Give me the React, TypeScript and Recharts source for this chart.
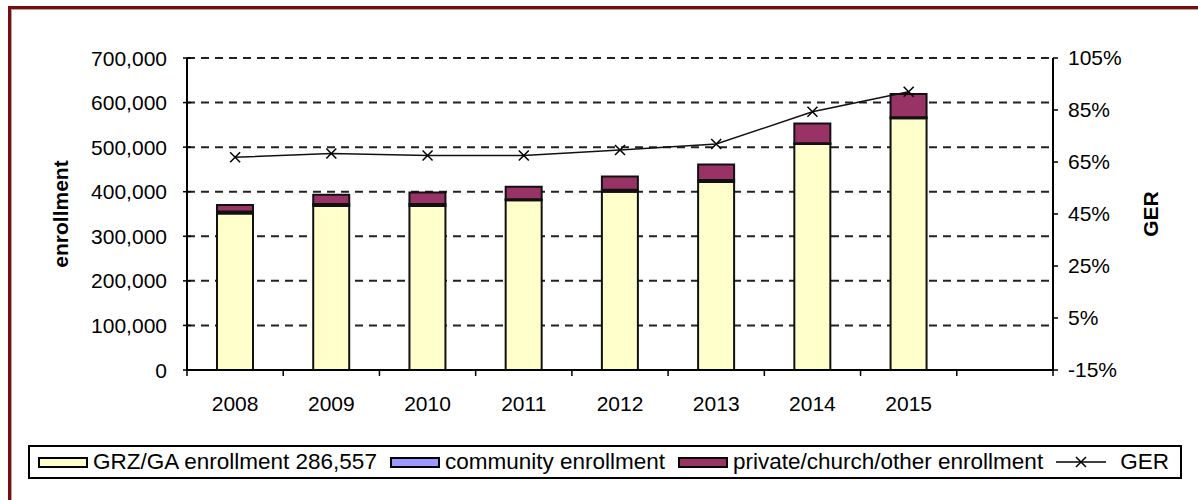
import React from 'react';
import { ComposedChart, Bar, Line, XAxis, YAxis, CartesianGrid } from 'recharts';

const years = ['2008', '2009', '2010', '2011', '2012', '2013', '2014', '2015', ''];
const grzEnrollment = [351000, 368000, 368000, 381000, 400000, 422000, 507000, 565000];
const communityEnrollment = [4500, 4500, 4500, 2000, 4500, 4500, 2000, 2000];
const privateEnrollment = [14500, 20500, 25500, 28000, 29500, 34500, 44000, 52000];
const gerValues = [66.8, 68.3, 67.5, 67.5, 69.6, 71.9, 84.3, 92.0];

const leftTicks = [0, 100000, 200000, 300000, 400000, 500000, 600000, 700000];
const rightTicks = [-15, 5, 25, 45, 65, 85, 105];

const series = [
  { key: 'grz', name: 'GRZ/GA enrollment 286,557', color: '#FFFFCC' },
  { key: 'community', name: 'community enrollment', color: '#9999FF' },
  { key: 'private', name: 'private/church/other enrollment', color: '#993366' },
];

const data = years.map((year, i) => ({
  year,
  grz: grzEnrollment[i],
  community: communityEnrollment[i],
  private: privateEnrollment[i],
  ger: gerValues[i],
}));

const FONT = '"Liberation Sans", Arial, sans-serif';
const FS = 21;
const LEGEND_FS = 22.5;

const LeftTick = (props: any) => {
  const { x, y, payload } = props;
  const ax = x + 20;
  return (
    <g>
      <line x1={ax - 4} x2={ax + 4} y1={y} y2={y} stroke="#000" strokeWidth={1.5} />
      <text x={x} y={y} dy="0.36em" textAnchor="end" fontSize={FS} fontFamily={FONT} fill="#000">
        {payload.value.toLocaleString('en-US')}
      </text>
    </g>
  );
};

const BottomTick = (props: any) => {
  const { x, y, payload, index, visibleTicksCount } = props;
  const half = payload.offset ?? 48;
  const axisY = y - 26;
  const isLast = index === (visibleTicksCount ?? years.length) - 1;
  return (
    <g>
      <line x1={x - half} x2={x - half} y1={axisY} y2={axisY + 6} stroke="#000" strokeWidth={1.5} />
      {isLast && <line x1={x + half} x2={x + half} y1={axisY} y2={axisY + 6} stroke="#000" strokeWidth={1.5} />}
      <text x={x} y={y} dy="0.71em" textAnchor="middle" fontSize={FS} fontFamily={FONT} fill="#000">
        {payload.value}
      </text>
    </g>
  );
};

const XDot = (props: any) => {
  const { cx, cy, index } = props;
  if (cx == null || cy == null) return <g key={`d${index}`} />;
  const s = 5;
  return (
    <path
      key={`d${index}`}
      d={`M${cx - s},${cy - s}L${cx + s},${cy + s}M${cx - s},${cy + s}L${cx + s},${cy - s}`}
      stroke="#000"
      strokeWidth={1.5}
      fill="none"
    />
  );
};

const Legend = () => (
  <div
    style={{
      position: 'absolute', left: 28, top: 445, width: 1154, height: 34, boxSizing: 'border-box',
      border: '2px solid #000', display: 'flex', alignItems: 'center', paddingLeft: 8,
      fontFamily: FONT, fontSize: LEGEND_FS, color: '#000', whiteSpace: 'nowrap', background: '#fff',
    }}
  >
    {series.map((s) => (
      <div key={s.key} style={{ display: 'flex', alignItems: 'center', marginRight: 13 }}>
        <span style={{ display: 'inline-block', width: 50, height: 11, boxSizing: 'border-box', border: '2px solid #000', background: s.color, marginRight: 5 }} />
        <span>{s.name}</span>
      </div>
    ))}
    <div style={{ display: 'flex', alignItems: 'center' }}>
      <svg width={50} height={12} style={{ marginRight: 14 }}>
        <line x1={0} x2={50} y1={6} y2={6} stroke="#000" strokeWidth={1.5} />
        <path d="M20,1L30,11M20,11L30,1" stroke="#000" strokeWidth={1.5} />
      </svg>
      <span>GER</span>
    </div>
  </div>
);

export default function App() {
  return (
    <div style={{ position: 'absolute', left: 0, top: 0, width: 1198, height: 500, background: '#fff', overflow: 'hidden' }}>
      <div
        style={{
          position: 'absolute', left: 8, top: 6, width: 1190, height: 494,
          borderTop: '3px solid #7a0c0c', borderLeft: '3px solid #7a0c0c',
          boxShadow: 'inset 1px 1px 0 #a8a8a8', boxSizing: 'border-box',
        }}
      />
      <div style={{ position: 'absolute', left: 0, top: 0 }}>
        <ComposedChart width={1198} height={500} data={data} margin={{ top: 58, right: 0, bottom: 0, left: 0 }}>
          <CartesianGrid yAxisId="left" vertical={false} stroke="#222" strokeWidth={2} strokeDasharray="8 6" />
          <XAxis
            dataKey="year"
            height={130}
            interval={0}
            axisLine={{ stroke: '#000', strokeWidth: 2 }}
            tickLine={false}
            tickSize={6}
            tickMargin={20}
            tick={<BottomTick />}
          />
          <YAxis
            yAxisId="left"
            width={187}
            domain={[0, 700000]}
            ticks={leftTicks}
            interval={0}
            axisLine={{ stroke: '#000', strokeWidth: 2 }}
            tickLine={false}
            tickSize={4}
            tickMargin={16}
            tick={<LeftTick />}
            label={{
              content: (p: any) => (
                <text
                  x={p.viewBox.x + 60}
                  y={p.viewBox.y + p.viewBox.height / 2}
                  transform={`rotate(-90, ${p.viewBox.x + 60}, ${p.viewBox.y + p.viewBox.height / 2})`}
                  textAnchor="middle"
                  dy="0.36em"
                  fontSize={FS}
                  fontWeight="bold"
                  fontFamily={FONT}
                  fill="#000"
                >
                  enrollment
                </text>
              ),
            }}
          />
          <YAxis
            yAxisId="right"
            orientation="right"
            width={145}
            domain={[-15, 105]}
            ticks={rightTicks}
            interval={0}
            axisLine={{ stroke: '#000', strokeWidth: 2 }}
            tickLine={{ stroke: '#000', strokeWidth: 1.5 }}
            tickSize={5}
            tickMargin={10}
            tick={{ fontSize: FS, fontFamily: FONT, fill: '#000' }}
            tickFormatter={(v: number) => `${v}%`}
            label={{
              content: (p: any) => (
                <text
                  x={p.viewBox.x + 97}
                  y={p.viewBox.y + p.viewBox.height / 2}
                  transform={`rotate(-90, ${p.viewBox.x + 97}, ${p.viewBox.y + p.viewBox.height / 2})`}
                  textAnchor="middle"
                  dy="0.36em"
                  fontSize={FS}
                  fontWeight="bold"
                  fontFamily={FONT}
                  fill="#000"
                >
                  GER
                </text>
              ),
            }}
          />
          {series.map((s) => (
            <Bar
              key={s.key}
              yAxisId="left"
              dataKey={s.key}
              name={s.name}
              stackId="enr"
              barSize={36}
              fill={s.color}
              stroke="#111"
              strokeWidth={2}
              isAnimationActive={false}
            />
          ))}
          <Line
            yAxisId="right"
            dataKey="ger"
            name="GER"
            type="linear"
            stroke="#111"
            strokeWidth={1.5}
            dot={<XDot />}
            activeDot={false}
            isAnimationActive={false}
          />
        </ComposedChart>
      </div>
      <Legend />
    </div>
  );
}
